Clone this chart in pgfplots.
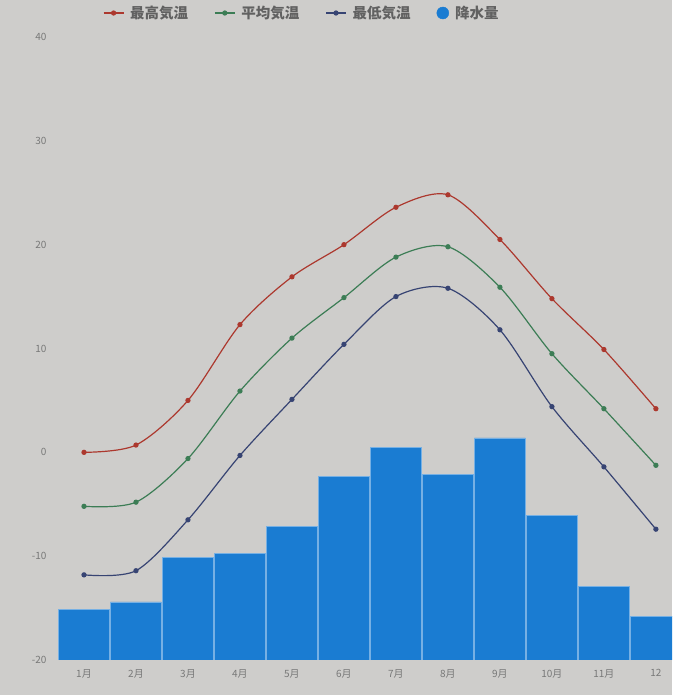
\documentclass[border=0pt]{standalone}
\usepackage{pgfplots}
\pgfplotsset{compat=1.18}
\usepackage{fontspec}
\setmainfont{Noto Sans CJK JP}
\definecolor{bg}{RGB}{206,205,203}
\definecolor{barblue}{RGB}{26,124,210}
\definecolor{cmax}{RGB}{172,56,46}
\definecolor{cavg}{RGB}{60,125,85}
\definecolor{cmin}{RGB}{55,68,115}
\definecolor{lbl}{RGB}{120,120,120}
\begin{document}
\begin{tikzpicture}
\useasboundingbox (0,0) rectangle (672pt,695pt);
\fill[bg] (0,0) rectangle (672pt,695pt);
% precipitation bars (hidden scale)
\begin{axis}[
  at={(58pt,35pt)}, anchor=south west,
  scale only axis, width=614pt, height=623pt,
  xmin=0.5, xmax=12.31, ymin=0, ymax=60,
  axis line style={draw=none}, tick style={draw=none},
  xtick=\empty, ytick=\empty,
  ybar, bar width=51pt,
]
\addplot[fill=barblue, draw=barblue!60!white, line width=0.4pt] coordinates {
(1,4.9) (2,5.6) (3,9.9) (4,10.3) (5,12.9) (6,17.7)
(7,20.5) (8,17.9) (9,21.4) (10,13.9) (11,7.1) (12,4.2)};
\end{axis}
\begin{axis}[
  at={(58pt,35pt)}, anchor=south west,
  scale only axis, width=614pt, height=623pt,
  xmin=0.5, xmax=12.31, ymin=-20, ymax=40,
  axis line style={draw=none}, tick style={draw=none},
  xtick={1,...,12},
  xticklabels={1月,2月,3月,4月,5月,6月,7月,8月,9月,10月,11月,12},
  ytick={-20,-10,0,10,20,30,40},
  /pgf/number format/assume math mode=true,
  ticklabel style={font=\fontsize{10}{11}\selectfont, text=lbl},
  yticklabel style={xshift=-8pt},
  xticklabel style={yshift=-6pt},
  legend columns=4,
  legend style={at={(0.397,1.0385)}, anchor=center, draw=none, fill=none,
    font=\fontsize{14.5}{15}\selectfont\bfseries, text=black!62,
    /tikz/every odd column/.append style={column sep=4pt},
    /tikz/every even column/.append style={column sep=24pt}},
  legend image code/.code={\draw[#1, mark repeat=2, mark phase=2] plot coordinates {(0pt,0pt) (10pt,0pt) (20pt,0pt)};},
  clip=false,
]
\addplot[cmax, line width=1.2pt, smooth, tension=0.5, mark=*, mark size=2pt] coordinates {
(1,0) (2,0.7) (3,5.0) (4,12.3) (5,16.9) (6,20.0) (7,23.6) (8,24.8) (9,20.5) (10,14.8) (11,9.9) (12,4.2)};
\addlegendentry{最高気温}
\addplot[cavg, line width=1.2pt, smooth, tension=0.5, mark=*, mark size=2pt] coordinates {
(1,-5.2) (2,-4.8) (3,-0.6) (4,5.9) (5,11.0) (6,14.9) (7,18.8) (8,19.8) (9,15.9) (10,9.5) (11,4.2) (12,-1.25)};
\addlegendentry{平均気温}
\addplot[cmin, line width=1.2pt, smooth, tension=0.5, mark=*, mark size=2pt] coordinates {
(1,-11.8) (2,-11.4) (3,-6.5) (4,-0.3) (5,5.1) (6,10.4) (7,15.0) (8,15.8) (9,11.8) (10,4.4) (11,-1.4) (12,-7.4)};
\addlegendentry{最低気温}
\addlegendimage{legend image code/.code={\fill[barblue] (10pt,0pt) circle (6pt);}}
\addlegendentry{降水量}
\end{axis}
\end{tikzpicture}
\end{document}
